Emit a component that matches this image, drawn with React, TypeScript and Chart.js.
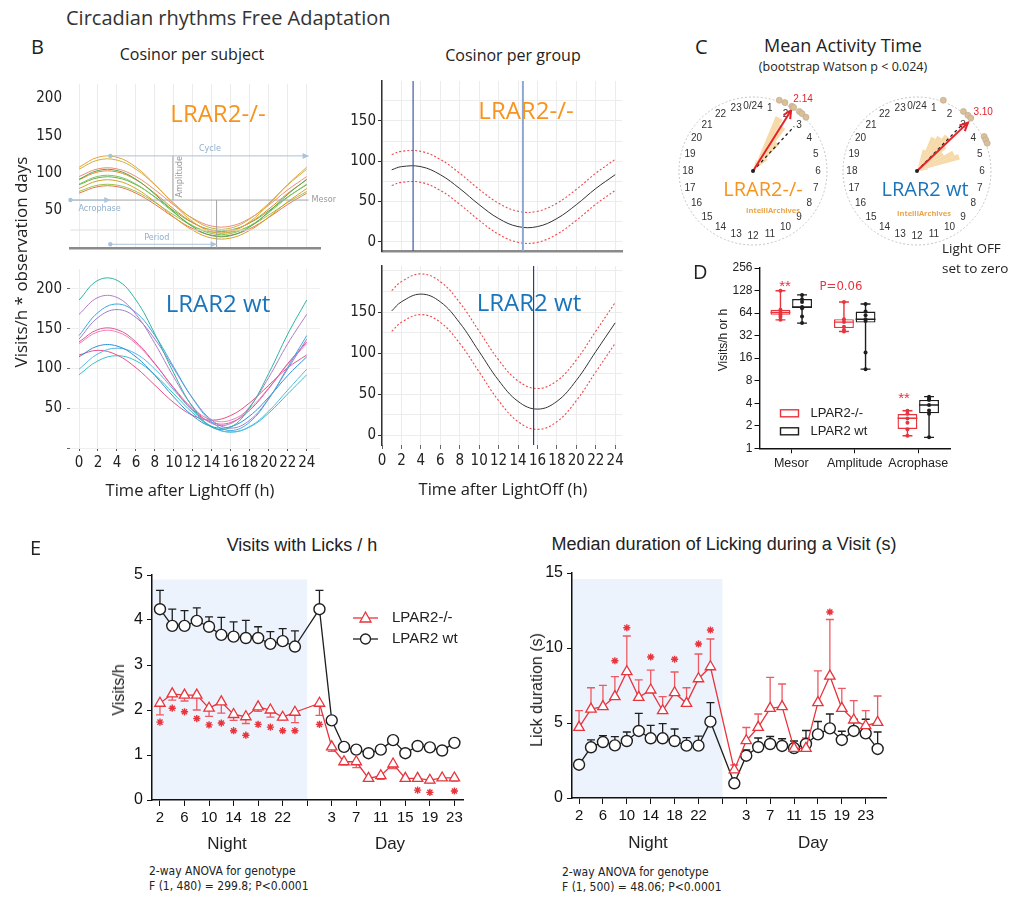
import React, { useEffect, useRef } from "react";
import { Chart, registerables } from "chart.js";

Chart.register(...registerables);

const SANS = "'Liberation Sans', Arial, sans-serif";
const OPEN = "'Open Sans', 'Noto Sans', sans-serif";
const NARROW = "'Liberation Sans Narrow', 'DejaVu Sans Condensed', 'Liberation Sans', sans-serif";
const RED = "#e8343d";
const INK = "#1e1e1e";
const ORANGE = "#f7941d";
const BLUE = "#1b75bb";

Chart.defaults.font.family = SANS;
Chart.defaults.color = "#222";

// ================= Panel B: cosinor per subject (values sampled every 2 h) =================
const subjectHours = [0, 2, 4, 6, 8, 10, 12, 14, 16, 18, 20, 22, 24];
const koSubjectCurves = [
  [107.9, 121.2, 121.2, 107.9, 84.8, 58.2, 35.1, 21.8, 21.8, 35.1, 58.2, 84.8, 107.9],
  [105.2, 117.4, 117.4, 105.2, 84.2, 59.8, 38.8, 26.6, 26.6, 38.8, 59.8, 84.2, 105.2],
  [95.4, 105.7, 105.7, 95.4, 77.7, 57.3, 39.6, 29.3, 29.3, 39.6, 57.3, 77.7, 95.4],
  [91.8, 103.5, 103.5, 91.8, 71.7, 48.3, 28.2, 16.5, 16.5, 28.2, 48.3, 71.7, 91.8],
  [91.1, 101.6, 101.6, 91.1, 73.0, 52.0, 33.9, 23.4, 23.4, 33.9, 52.0, 73.0, 91.1],
  [85.4, 95.7, 95.7, 85.4, 67.7, 47.3, 29.6, 19.3, 19.3, 29.6, 47.3, 67.7, 85.4],
  [84.5, 93.8, 93.8, 84.5, 68.3, 49.7, 33.5, 24.2, 24.2, 33.5, 49.7, 68.3, 84.5],
  [79.4, 89.7, 89.7, 79.4, 61.7, 41.3, 23.6, 13.3, 13.3, 23.6, 41.3, 61.7, 79.4],
  [75.5, 83.9, 83.9, 75.5, 60.9, 44.1, 29.5, 21.1, 21.1, 29.5, 44.1, 60.9, 75.5],
  [73.2, 81.9, 81.9, 73.2, 58.2, 40.8, 25.8, 17.1, 17.1, 25.8, 40.8, 58.2, 73.2],
];
const koSubjectColors = ["#e9a23b", "#c9b43c", "#f08a7a", "#52a84a", "#e58b2a", "#86c45c", "#5fb356", "#d6a02a", "#9cc248", "#e37752"];
const wtSubjectCurves = [
  [186, 210.8, 210.8, 186, 143.2, 93.8, 51, 26.2, 26.2, 51, 93.8, 143.2, 186],
  [168, 189.2, 189.2, 168, 131.2, 88.8, 52, 30.8, 30.8, 52, 88.8, 131.2, 168],
  [141.3, 170.3, 181, 170.3, 141.3, 101.5, 61.8, 32.7, 22, 32.7, 61.8, 101.5, 141.3],
  [136.8, 164, 174, 164, 136.8, 99.5, 62.3, 35, 25, 35, 62.3, 99.5, 136.8],
  [133.3, 148.9, 148.9, 133.3, 106.2, 74.8, 47.7, 32.1, 32.1, 47.7, 74.8, 106.2, 133.3],
  [131.2, 146, 146, 131.2, 105.4, 75.6, 49.8, 35, 35, 49.8, 75.6, 105.4, 131.2],
  [114.6, 128.2, 128.2, 114.6, 91.1, 63.9, 40.4, 26.8, 26.8, 40.4, 63.9, 91.1, 114.6],
  [99.1, 118.4, 125.5, 118.4, 99.1, 72.8, 46.4, 27.1, 20, 27.1, 46.4, 72.8, 99.1],
  [116.9, 122.8, 116.9, 100.9, 78.9, 56.9, 40.9, 35, 40.9, 56.9, 78.9, 100.9, 116.9],
  [92, 109.6, 116, 109.6, 92, 68, 44, 26.4, 20, 26.4, 44, 68, 92],
];
const wtSubjectColors = ["#2bb5a0", "#b07cc6", "#3aa8e0", "#9b7fd0", "#e0559a", "#f07fb0", "#2e8fd6", "#58b8e8", "#e8508a", "#35c0c8"];

// guide annotations (data units) on the per-subject LRAR2-/- plot
const guideStart = -0.9;
const guideAcrophase = 3.3;
const guideCycleEnd = 24.2;
const guideMesor = 64;
const guidePeak = 123;
const guideAmplitudeHour = 9.9;
const guideTroughHour = 14.5;
const guidePeriodLevel = 5;
const guideLowLevel = 24;

// ================= Panel B: cosinor per group =================
const groupHours = [1, 2, 4, 6, 8, 10, 12, 14, 16, 18, 20, 22, 24];
const koGroupFit = [89.3, 93.2, 93.2, 83.2, 66, 46, 28.8, 18.8, 18.8, 28.8, 46, 66, 83.2];
const koGroupUpper = [108.3, 112.2, 112.2, 102.2, 85, 65, 47.8, 37.8, 37.8, 47.8, 65, 85, 102.2];
const koGroupLower = [69.8, 73.7, 73.7, 63.7, 46.5, 26.5, 9.3, -0.7, -0.7, 9.3, 26.5, 46.5, 63.7];
const wtGroupFit = [151.3, 162.4, 171.8, 162.4, 136.8, 101.8, 66.8, 41.2, 31.8, 41.2, 66.8, 101.8, 136.8];
const wtGroupUpper = [176, 187, 196.4, 187, 161.5, 126.6, 91.7, 66.2, 56.8, 66.2, 91.7, 126.6, 161.5];
const wtGroupLower = [126.4, 137.5, 146.8, 137.5, 111.9, 77, 42.1, 16.5, 7.1, 16.5, 42.1, 77, 111.9];
const koGroupMarkerHours = [3.2, 14.5];
const wtGroupMarkerHours = [15.6];

// ================= Panel C: mean activity time =================
const clockHours = [0, 1, 2, 3, 4, 5, 6, 7, 8, 9, 10, 11, 12, 13, 14, 15, 16, 17, 18, 19, 20, 21, 22, 23];
const koPhaseHours = [1.36, 1.67, 2.07, 2.17, 2.53, 2.7, 2.97];
const wtPhaseHours = [1.36, 2.53, 2.83, 3.03, 4.19, 4.38, 4.56];
const koMeanHour = 2.14;
const wtMeanHour = 3.1;
const koMeanLength = 0.97;
const wtMeanLength = 0.95;
const koMedianHour = 2.85;
const wtMedianHour = 2.95;
const koMedianLength = 0.82;
const wtMedianLength = 0.9;
const koRoseStarts = [1.0, 1.5, 2.0, 2.5, 3.0];
const koRoseValues = [0.15, 0.8, 0.72, 0.5, 0.25];
const wtRoseStarts = [1.0, 1.5, 2.0, 2.5, 3.0, 3.5, 4.0, 4.5, 5.0];
const wtRoseValues = [0.3, 0.5, 0.55, 0.62, 0.5, 0.42, 0.55, 0.6, 0.15];

// ================= Panel D: box plots =================
const boxCategories = ["Mesor", "Amplitude", "Acrophase"];
const logTicks = [1, 2, 4, 8, 16, 32, 64, 128, 256];
const koBoxMin = [52, 36.3, 1.47];
const koBoxQ1 = [60.7, 40.3, 1.81];
const koBoxMedian = [65, 48.5, 2.52];
const koBoxQ3 = [71, 53, 2.87];
const koBoxMax = [127, 90, 3.18];
const koBoxPoints = [[127, 71, 65, 61, 57, 52], [90, 53, 48.5, 42, 38, 36.3], [3.18, 2.9, 2.5, 2.2, 1.8, 1.47]];
const wtBoxMin = [47, 11.4, 1.4];
const wtBoxQ1 = [74.6, 47.8, 2.93];
const wtBoxMedian = [77, 53, 3.79];
const wtBoxQ3 = [98.5, 67, 4.43];
const wtBoxMax = [112, 84.5, 4.9];
const wtBoxPoints = [[112, 98, 90, 77, 74, 57.6, 47], [84.5, 67, 60, 53, 50, 19, 11.4], [4.9, 4.6, 4.43, 3.8, 3.2, 2.9, 1.4]];

// ================= Panel E: visits with licks =================
const visitsNightHours = [2, 4, 6, 8, 10, 12, 14, 16, 18, 20, 22, 24];
const visitsDayHours = [1, 3, 5, 7, 9, 11, 13, 15, 17, 19, 21, 23];
const koVisitsNight = [2.15, 2.36, 2.33, 2.33, 2.04, 2.18, 1.9, 1.85, 2.07, 2.0, 1.84, 1.95];
const koVisitsNightErr = [1.89, 2.22, 2.2, 2.0, 1.86, 1.93, 1.77, 1.7, 1.97, 1.84, 1.78, 1.72];
const koVisitsNightStars = [1.73, 2.04, 1.96, 1.81, 1.67, 1.71, 1.54, 1.44, 1.68, 1.62, 1.54, 1.54];
const koVisitsDay = [2.15, 1.18, 0.85, 0.85, 0.48, 0.54, 0.8, 0.48, 0.48, 0.44, 0.49, 0.49];
const koVisitsDayErr = [1.88, 1.08, 0.78, 0.72, 0.43, 0.46, 0.7, 0.44, 0.43, 0.38, 0.45, 0.42];
const koVisitsDayStars = [1.68, null, null, null, null, null, null, null, 0.22, 0.17, null, 0.2];
const wtVisitsNight = [4.24, 3.87, 3.87, 3.98, 3.85, 3.67, 3.63, 3.6, 3.6, 3.47, 3.53, 3.41];
const wtVisitsNightErr = [4.66, 4.24, 4.21, 4.27, 4.07, 4.06, 3.96, 3.99, 3.85, 3.74, 3.81, 3.76];
const wtVisitsDay = [4.24, 1.77, 1.18, 1.12, 1.04, 1.12, 1.33, 1.04, 1.2, 1.17, 1.1, 1.27];
const wtVisitsDayErr = [4.66, 1.8, 1.21, 1.15, 1.07, 1.16, 1.4, 1.07, 1.27, 1.2, 1.13, 1.3];

// ================= Panel E: median licking duration =================
const lickNightHours = [2, 4, 6, 8, 10, 12, 14, 16, 18, 20, 22, 24];
const lickDayHours = [1, 3, 5, 7, 9, 11, 13, 15, 17, 19, 21, 23, 25];
const koLickNight = [4.71, 5.93, 6.09, 6.76, 8.42, 6.71, 7.2, 5.82, 7.02, 6.31, 7.95, 8.75];
const koLickNightErr = [5.82, 7.35, 7.51, 8.09, 10.8, 7.87, 8.53, 6.76, 8.4, 7.35, 9.6, 10.6];
const koLickNightStars = [null, null, null, 9.15, 11.35, null, 9.4, null, 9.25, null, 10.27, 11.2];
const koLickDay = [1.87, 3.82, 4.71, 5.98, 6.09, 3.31, 3.31, 6.36, 8.13, 5.98, 5.2, 4.82, 5.04];
const koLickDayErr = [2.2, 4.7, 5.6, 8.04, 7.6, 3.5, 4.0, 8.47, 11.9, 7.31, 6.49, 5.82, 6.8];
const koLickDayStars = [null, null, null, null, null, null, null, null, 12.4, null, null, null, null];
const wtLickNight = [2.22, 3.38, 3.73, 3.51, 3.8, 4.47, 3.98, 3.98, 3.8, 3.49, 3.49, 5.09];
const wtLickNightErr = [2.5, 3.87, 4.16, 4.09, 4.4, 5.64, 4.84, 4.96, 4.6, 4.02, 4.13, 6.36];
const wtLickDay = [0.98, 2.82, 3.4, 3.6, 3.47, 3.33, 3.6, 4.24, 4.64, 3.87, 4.47, 4.31, 3.27];
const wtLickDayErr = [1.0, 3.2, 4.0, 4.1, 3.95, 3.8, 4.5, 5.1, 5.6, 4.45, 5.25, 5.25, 4.4];

// ================= helpers =================
const baseOptions = {
  responsive: false,
  maintainAspectRatio: false,
  animation: false,
  devicePixelRatio: 1,
  events: [],
  plugins: { legend: { display: false }, tooltip: { enabled: false } },
};

const DAY_SLOT0 = 13; // night slots 0..11, one empty slot, then day slots
const toSlots = (night: any[], day: any[]) => [
  ...night.map((v, i) => ({ x: i, y: v })),
  ...day.map((v, j) => ({ x: DAY_SLOT0 + j, y: v })),
];

const errorBars = {
  id: "errorBars",
  beforeDatasetsDraw(chart: any) {
    const { ctx } = chart;
    const ys = chart.scales.y;
    chart.data.datasets.forEach((ds: any, di: number) => {
      if (!ds.errTo) return;
      const meta = chart.getDatasetMeta(di);
      ctx.save();
      ctx.strokeStyle = ds.errColor || ds.borderColor;
      ctx.lineWidth = 1.3;
      meta.data.forEach((pt: any, i: number) => {
        const e = ds.errTo[i];
        if (e == null) return;
        const y2 = ys.getPixelForValue(e);
        ctx.beginPath();
        ctx.moveTo(pt.x, pt.y);
        ctx.lineTo(pt.x, y2);
        ctx.moveTo(pt.x - 4, y2);
        ctx.lineTo(pt.x + 4, y2);
        ctx.stroke();
      });
      ctx.restore();
    });
  },
};

const nightShade = (toSlot: number, topValue: number) => ({
  id: "nightShade",
  beforeDraw(chart: any) {
    const { ctx, chartArea, scales } = chart;
    const x2 = scales.x.getPixelForValue(toSlot);
    const y1 = scales.y.getPixelForValue(topValue);
    ctx.save();
    ctx.fillStyle = "#ecf3fc";
    ctx.fillRect(chartArea.left, y1, x2 - chartArea.left, chartArea.bottom - y1);
    ctx.restore();
  },
});

function drawMarker(ctx: any, shape: string, x: number, y: number, color: string) {
  ctx.save();
  ctx.fillStyle = "#fff";
  ctx.strokeStyle = color;
  ctx.lineWidth = 1.3;
  ctx.beginPath();
  if (shape === "triangle") {
    ctx.moveTo(x, y - 6);
    ctx.lineTo(x + 5.5, y + 4);
    ctx.lineTo(x - 5.5, y + 4);
    ctx.closePath();
  } else {
    ctx.arc(x, y, 5, 0, Math.PI * 2);
  }
  ctx.fill();
  ctx.stroke();
  ctx.restore();
}

const seriesLegend = (dx: number, dy: number) => ({
  id: "seriesLegend",
  afterDraw(chart: any) {
    const { ctx, chartArea } = chart;
    chart.data.datasets
      .filter((d: any) => d.legendShape)
      .forEach((d: any, i: number) => {
        const x0 = chartArea.left + dx;
        const y = chartArea.top + dy + i * 21;
        ctx.save();
        ctx.strokeStyle = d.borderColor;
        ctx.lineWidth = 1.3;
        ctx.beginPath();
        ctx.moveTo(x0, y);
        ctx.lineTo(x0 + 25, y);
        ctx.stroke();
        drawMarker(ctx, d.legendShape, x0 + 12.5, y, d.borderColor);
        ctx.fillStyle = "#222";
        ctx.font = `15px ${SANS}`;
        ctx.textBaseline = "middle";
        ctx.fillText(d.label, x0 + 39, y);
        ctx.restore();
      });
  },
});

function timeCourseConfig(p: any) {
  const slotLabel = (v: number) => {
    if (v < p.nightHours.length) return String(p.nightHours[v]);
    if (v < DAY_SLOT0) return "";
    const h = p.dayHours[v - DAY_SLOT0];
    return h == null ? "" : String(h);
  };
  const stars = toSlots(p.koNightStars, p.koDayStars).filter((pt) => pt.y != null);
  const plugins: any[] = [nightShade(12, p.shadeTop), errorBars];
  if (p.legend) plugins.push(seriesLegend(201, 43));
  return {
    type: "line",
    data: {
      datasets: [
        {
          label: "stars",
          data: stars,
          showLine: false,
          pointStyle: "star",
          pointRadius: 3.6,
          pointBorderWidth: 1.4,
          borderColor: RED,
          backgroundColor: RED,
        },
        {
          label: "LPAR2-/-",
          legendShape: "triangle",
          data: toSlots(p.koNight, p.koDay),
          errTo: [...p.koNightErr, ...p.koDayErr],
          errColor: "#ee5a62",
          borderColor: RED,
          backgroundColor: "#fff",
          pointStyle: "triangle",
          pointRadius: 6,
          pointBorderWidth: 1.3,
          borderWidth: 1.3,
          tension: 0,
        },
        {
          label: "LPAR2 wt",
          legendShape: "circle",
          data: toSlots(p.wtNight, p.wtDay),
          errTo: [...p.wtNightErr, ...p.wtDayErr],
          borderColor: INK,
          backgroundColor: "#fff",
          pointStyle: "circle",
          pointRadius: 5.5,
          pointBorderWidth: 1.4,
          borderWidth: 1.3,
          tension: 0,
        },
      ],
    },
    options: {
      ...baseOptions,
      layout: { padding: { top: p.padTop, right: p.padRight, left: 0, bottom: 0 } },
      scales: {
        x: {
          type: "linear",
          min: p.xMin,
          max: p.xMax,
          ticks: {
            stepSize: 2,
            maxTicksLimit: 100,
            includeBounds: false,
            autoSkip: false,
            maxRotation: 0,
            callback: slotLabel,
            font: { size: 15, family: SANS },
            color: "#111",
            padding: 3,
          },
          grid: { drawOnChartArea: false, tickLength: 6, color: "#111" },
          border: { color: "#111", width: 1.5 },
          afterFit: (s: any) => {
            s.height = p.axisH;
          },
        },
        y: {
          min: 0,
          max: p.yMax,
          ticks: { stepSize: p.yStep, font: { size: 16, family: SANS }, color: "#111", padding: 4 },
          grid: { drawOnChartArea: false, tickLength: 5, color: "#111" },
          border: { color: "#111", width: 1.5 },
          afterFit: (s: any) => {
            s.width = 52;
          },
        },
      },
    },
    plugins,
  };
}

const cosinorGuide = {
  id: "cosinorGuide",
  afterDatasetsDraw(chart: any) {
    const { ctx } = chart;
    const X = (v: number) => chart.scales.x.getPixelForValue(v);
    const Y = (v: number) => chart.scales.y.getPixelForValue(v);
    const seg = (x1: number, y1: number, x2: number, y2: number) => {
      ctx.beginPath();
      ctx.moveTo(x1, y1);
      ctx.lineTo(x2, y2);
      ctx.stroke();
    };
    const arrow = (x1: number, y: number, x2: number) => {
      seg(x1, y, x2, y);
      ctx.beginPath();
      ctx.moveTo(x2, y);
      ctx.lineTo(x2 - 6, y - 3);
      ctx.lineTo(x2 - 6, y + 3);
      ctx.closePath();
      ctx.fill();
      ctx.beginPath();
      ctx.arc(x1, y, 2.2, 0, Math.PI * 2);
      ctx.fill();
    };
    ctx.save();
    ctx.lineWidth = 1;
    ctx.strokeStyle = "#dedede";
    seg(X(guideStart), Y(guideLowLevel), X(guideCycleEnd), Y(guideLowLevel));
    ctx.strokeStyle = "#a3a3a3";
    seg(X(guideStart), Y(guideMesor), X(guideCycleEnd), Y(guideMesor));
    seg(X(guideAmplitudeHour), Y(guidePeak), X(guideAmplitudeHour), Y(guideMesor));
    seg(X(guideTroughHour), Y(guideMesor), X(guideTroughHour), Y(0));
    ctx.strokeStyle = "#a9c3da";
    ctx.fillStyle = "#a9c3da";
    arrow(X(guideStart), Y(guideMesor), X(guideAcrophase));
    arrow(X(guideAcrophase), Y(guidePeak), X(guideCycleEnd));
    arrow(X(guideAcrophase), Y(guidePeriodLevel), X(guideTroughHour));
    ctx.font = `9px ${NARROW}`;
    ctx.textBaseline = "middle";
    ctx.fillStyle = "#8fb0cc";
    ctx.textAlign = "left";
    ctx.fillText("Acrophase", X(guideStart) + 8, Y(guideMesor) + 9);
    ctx.textAlign = "center";
    ctx.fillText("Cycle", X(13.8), Y(guidePeak) - 7);
    ctx.fillText("Period", X(8.2), Y(guidePeriodLevel) - 7);
    ctx.fillStyle = "#999";
    ctx.textAlign = "left";
    ctx.fillText("Mesor", X(guideCycleEnd) + 3, Y(guideMesor));
    ctx.translate(X(guideAmplitudeHour) + 7, Y(95));
    ctx.rotate(-Math.PI / 2);
    ctx.textAlign = "center";
    ctx.fillText("Amplitude", 0, 0);
    ctx.restore();
  },
};

function subjectConfig(curves: number[][], colors: string[], yMax: number, isTop: boolean, axisH: number) {
  return {
    type: "line",
    data: {
      datasets: curves.map((c, i) => ({
        data: subjectHours.map((h, k) => ({ x: h, y: c[k] })),
        borderColor: colors[i],
        borderWidth: 1,
        pointRadius: 0,
        tension: 0.4,
        fill: false,
      })),
    },
    options: {
      ...baseOptions,
      layout: { padding: { top: 7, right: 20, left: 0, bottom: 0 } },
      scales: {
        x: {
          type: "linear",
          min: -0.95,
          max: 25.4,
          ticks: {
            display: !isTop,
            stepSize: 2,
            maxTicksLimit: 100,
            includeBounds: false,
            autoSkip: false,
            maxRotation: 0,
            font: { family: NARROW, size: 15 },
            color: "#222",
            padding: 3,
          },
          grid: { color: "#ebebeb", drawTicks: !isTop, tickLength: 3, tickColor: "#555" },
          border: { display: isTop, color: "#8a8a8a", width: 2.5 },
          afterFit: (s: any) => {
            s.height = axisH;
          },
        },
        y: {
          min: 0,
          max: yMax,
          ticks: {
            stepSize: 25,
            maxTicksLimit: 100,
            includeBounds: false,
            callback: (v: number) => (v % 50 === 0 && v > 0 ? String(v) : ""),
            font: { family: NARROW, size: 15 },
            color: "#222",
            padding: 5,
          },
          grid: {
            color: isTop ? "rgba(0,0,0,0)" : "#efefef",
            tickLength: 3,
            tickColor: (c: any) => (c.tick && c.tick.value % 50 === 0 && !isTop ? "#666" : "rgba(0,0,0,0)"),
          },
          border: { display: false },
          afterFit: (s: any) => {
            s.width = 40;
          },
        },
      },
    },
    plugins: isTop ? [cosinorGuide] : [],
  };
}

const markerLines = (hours: number[], colors: string[], widths: number[]) => ({
  id: "markerLines",
  afterDatasetsDraw(chart: any) {
    const { ctx, chartArea } = chart;
    hours.forEach((h, i) => {
      const x = chart.scales.x.getPixelForValue(h);
      ctx.save();
      ctx.strokeStyle = colors[i];
      ctx.lineWidth = widths[i];
      ctx.beginPath();
      ctx.moveTo(x, chartArea.top);
      ctx.lineTo(x, chartArea.bottom);
      ctx.stroke();
      ctx.restore();
    });
  },
});

function groupConfig(fit: number[], upper: number[], lower: number[], yMin: number, yMax: number, showX: boolean, axisH: number, padTop: number, marker: any) {
  const band = (vals: number[]) => ({
    data: groupHours.map((h, k) => ({ x: h, y: vals[k] })),
    borderColor: "#f04848",
    borderDash: [2, 2],
    borderWidth: 1.1,
    pointRadius: 0,
    tension: 0.4,
  });
  return {
    type: "line",
    data: {
      datasets: [
        band(upper),
        band(lower),
        {
          data: groupHours.map((h, k) => ({ x: h, y: fit[k] })),
          borderColor: "#333",
          borderWidth: 1,
          pointRadius: 0,
          tension: 0.4,
        },
      ],
    },
    options: {
      ...baseOptions,
      layout: { padding: { top: padTop, right: 8, left: 0, bottom: 0 } },
      scales: {
        x: {
          type: "linear",
          min: 0,
          max: 24.7,
          ticks: {
            display: showX,
            stepSize: 2,
            maxTicksLimit: 100,
            includeBounds: false,
            autoSkip: false,
            maxRotation: 0,
            font: { family: NARROW, size: 15 },
            color: "#222",
            padding: 3,
          },
          grid: { color: "#ececec", drawTicks: showX, tickLength: 4, tickColor: "#666" },
          border: { display: !showX, color: "#8a8a8a", width: 2.5 },
          afterFit: (s: any) => {
            s.height = axisH;
          },
        },
        y: {
          min: yMin,
          max: yMax,
          ticks: {
            stepSize: 25,
            maxTicksLimit: 100,
            includeBounds: false,
            callback: (v: number) => (v % 50 === 0 && v < 200 ? String(v) : ""),
            font: { family: NARROW, size: 15 },
            color: "#222",
            padding: 2,
          },
          grid: {
            color: "#ececec",
            tickLength: 4,
            tickColor: (c: any) => (c.tick && c.tick.value % 50 === 0 && c.tick.value < 200 ? "#333" : "rgba(0,0,0,0)"),
          },
          border: { display: true, color: "#333", width: 1.5 },
          afterFit: (s: any) => {
            s.width = 42;
          },
        },
      },
    },
    plugins: [markerLines(marker.hours, marker.colors, marker.widths)],
  };
}

const polarPoint = (cx: number, cy: number, R: number, hour: number): [number, number] => {
  const a = (hour / 24) * Math.PI * 2;
  return [cx + Math.sin(a) * R, cy - Math.cos(a) * R];
};

const clockFace = (phases: number[], meanHour: number, meanLen: number, medianHour: number, medianLen: number) => ({
  id: "clockFace",
  beforeDatasetsDraw(chart: any) {
    const r = chart.scales.r;
    const { ctx } = chart;
    const cx = r.xCenter, cy = r.yCenter, R = r.drawingArea;
    ctx.save();
    ctx.strokeStyle = "#c4c4c4";
    ctx.lineWidth = 1;
    ctx.setLineDash([2, 2]);
    ctx.beginPath();
    ctx.arc(cx, cy, R, 0, Math.PI * 2);
    ctx.stroke();
    ctx.setLineDash([]);
    ctx.fillStyle = "#333";
    ctx.font = `10px ${SANS}`;
    ctx.textAlign = "center";
    ctx.textBaseline = "middle";
    clockHours.forEach((h) => {
      const [x, y] = polarPoint(cx, cy, R * 0.88, h);
      ctx.fillText(h === 0 ? "0/24" : String(h), x, y);
    });
    ctx.restore();
  },
  afterDatasetsDraw(chart: any) {
    const r = chart.scales.r;
    const { ctx } = chart;
    const cx = r.xCenter, cy = r.yCenter, R = r.drawingArea;
    ctx.save();
    // median direction (dashed)
    const [mx, my] = polarPoint(cx, cy, R * medianLen, medianHour);
    ctx.strokeStyle = "#222";
    ctx.lineWidth = 1.3;
    ctx.setLineDash([3, 3]);
    ctx.beginPath();
    ctx.moveTo(cx, cy);
    ctx.lineTo(mx, my);
    ctx.stroke();
    ctx.setLineDash([]);
    // mean arrow
    const [ax, ay] = polarPoint(cx, cy, R * meanLen, meanHour);
    ctx.strokeStyle = "#e8202a";
    ctx.lineWidth = 2;
    ctx.beginPath();
    ctx.moveTo(cx, cy);
    ctx.lineTo(ax, ay);
    ctx.stroke();
    const ang = Math.atan2(ay - cy, ax - cx);
    ctx.beginPath();
    ctx.moveTo(ax - 9 * Math.cos(ang - 0.45), ay - 9 * Math.sin(ang - 0.45));
    ctx.lineTo(ax, ay);
    ctx.lineTo(ax - 9 * Math.cos(ang + 0.45), ay - 9 * Math.sin(ang + 0.45));
    ctx.stroke();
    ctx.fillStyle = "#222";
    ctx.beginPath();
    ctx.arc(cx, cy, 2, 0, Math.PI * 2);
    ctx.fill();
    // subject phases on the rim
    ctx.fillStyle = "#dcbf95";
    ctx.strokeStyle = "#bfb09a";
    ctx.lineWidth = 0.8;
    phases.forEach((h) => {
      const [x, y] = polarPoint(cx, cy, R * 1.02, h);
      ctx.beginPath();
      ctx.arc(x, y, 3, 0, Math.PI * 2);
      ctx.fill();
      ctx.stroke();
    });
    // mean label
    const [lx, ly] = polarPoint(cx, cy, R * 1.12, meanHour);
    ctx.fillStyle = "#e8202a";
    ctx.font = `10px ${SANS}`;
    ctx.textAlign = "center";
    ctx.textBaseline = "middle";
    ctx.fillText(meanHour.toFixed(2), lx + 6, ly - 2);
    ctx.restore();
  },
});

const roseLabels = Array.from({ length: 48 }, (_, k) => String(k / 2));
const roseSeries = (starts: number[], values: number[]) => {
  const out = new Array(48).fill(0);
  starts.forEach((s, i) => {
    out[Math.round(s * 2)] = values[i];
  });
  return out;
};

function clockConfig(starts: number[], values: number[], phases: number[], meanHour: number, meanLen: number, medianHour: number, medianLen: number) {
  return {
    type: "polarArea",
    data: {
      labels: roseLabels,
      datasets: [{ data: roseSeries(starts, values), backgroundColor: "rgba(246, 212, 155, 0.85)", borderWidth: 0 }],
    },
    options: {
      ...baseOptions,
      layout: { padding: 8 },
      scales: { r: { display: false, min: 0, max: 1 } },
    },
    plugins: [clockFace(phases, meanHour, meanLen, medianHour, medianLen)],
  };
}

const boxWhiskers = {
  id: "boxWhiskers",
  afterDatasetsDraw(chart: any) {
    const { ctx } = chart;
    const y = chart.scales.y;
    const py = (v: number) => y.getPixelForValue(v);
    chart.data.datasets.forEach((ds: any, di: number) => {
      const meta = chart.getDatasetMeta(di);
      ctx.save();
      ctx.strokeStyle = ds.borderColor;
      ctx.fillStyle = ds.borderColor;
      ctx.lineWidth = 1.4;
      meta.data.forEach((bar: any, i: number) => {
        const x = bar.x;
        const hw = bar.width / 2;
        ctx.beginPath();
        ctx.moveTo(x, py(ds.boxQ3[i]));
        ctx.lineTo(x, py(ds.boxMax[i]));
        ctx.moveTo(x - hw / 2, py(ds.boxMax[i]));
        ctx.lineTo(x + hw / 2, py(ds.boxMax[i]));
        ctx.moveTo(x, py(ds.boxQ1[i]));
        ctx.lineTo(x, py(ds.boxMin[i]));
        ctx.moveTo(x - hw / 2, py(ds.boxMin[i]));
        ctx.lineTo(x + hw / 2, py(ds.boxMin[i]));
        ctx.moveTo(x - hw, py(ds.boxMedian[i]));
        ctx.lineTo(x + hw, py(ds.boxMedian[i]));
        ctx.stroke();
        ds.boxPoints[i].forEach((v: number) => {
          ctx.beginPath();
          ctx.arc(x, py(v), 2, 0, Math.PI * 2);
          ctx.fill();
        });
      });
      ctx.restore();
    });
  },
  afterDraw(chart: any) {
    const { ctx, chartArea } = chart;
    chart.data.datasets.forEach((ds: any, i: number) => {
      const y = chartArea.bottom - 35 + i * 18;
      ctx.save();
      ctx.strokeStyle = ds.borderColor;
      ctx.lineWidth = 1.4;
      ctx.strokeRect(chartArea.left + 21, y - 3.5, 18, 7);
      ctx.fillStyle = "#222";
      ctx.font = `13px ${SANS}`;
      ctx.textBaseline = "middle";
      ctx.fillText(ds.label, chartArea.left + 51, y);
      ctx.restore();
    });
  },
};

function boxConfig() {
  const mk = (label: string, color: string, mn: number[], q1: number[], md: number[], q3: number[], mx: number[], pts: number[][]) => ({
    label,
    data: boxCategories.map((_, i) => [q1[i], q3[i]]),
    backgroundColor: "#fff",
    borderColor: color,
    borderWidth: 1.4,
    borderSkipped: false,
    categoryPercentage: 0.68,
    barPercentage: 0.92,
    boxMin: mn,
    boxQ1: q1,
    boxMedian: md,
    boxQ3: q3,
    boxMax: mx,
    boxPoints: pts,
  });
  return {
    type: "bar",
    data: {
      labels: boxCategories,
      datasets: [
        mk("LPAR2-/-", RED, koBoxMin, koBoxQ1, koBoxMedian, koBoxQ3, koBoxMax, koBoxPoints),
        mk("LPAR2 wt", INK, wtBoxMin, wtBoxQ1, wtBoxMedian, wtBoxQ3, wtBoxMax, wtBoxPoints),
      ],
    },
    options: {
      ...baseOptions,
      layout: { padding: { top: 13, right: 10, left: 0, bottom: 0 } },
      scales: {
        x: {
          ticks: { font: { size: 12.5, family: SANS }, color: "#222", padding: 3, autoSkip: false, maxRotation: 0, minRotation: 0 },
          grid: { offset: false, drawOnChartArea: false, tickLength: 5, color: "#111" },
          border: { color: "#111", width: 1.4 },
          afterFit: (s: any) => {
            s.height = 34.7;
          },
        },
        y: {
          type: "logarithmic",
          min: 1,
          max: 256,
          afterBuildTicks: (s: any) => {
            s.ticks = logTicks.map((v) => ({ value: v }));
          },
          ticks: { callback: (v: number) => String(v), font: { size: 12, family: SANS }, color: "#222", padding: 2 },
          grid: { drawOnChartArea: false, tickLength: 5, color: "#111" },
          border: { color: "#111", width: 1.4 },
          afterFit: (s: any) => {
            s.width = 59.5;
          },
        },
      },
    },
    plugins: [boxWhiskers],
  };
}

// ================= components =================
function ChartCanvas({ left, top, width, height, make }: any) {
  const ref = useRef<HTMLCanvasElement | null>(null);
  useEffect(() => {
    if (!ref.current) return;
    const chart = new Chart(ref.current, make());
    return () => chart.destroy();
  }, []);
  return <canvas ref={ref} width={width} height={height} style={{ position: "absolute", left, top, width, height }} />;
}

function Txt({ x, y, children, size = 14, color = "#222", family = OPEN, align = "left", rotate = false, weight = 400 }: any) {
  const transform = rotate ? "translate(-50%,-50%) rotate(-90deg)" : align === "center" ? "translate(-50%,-50%)" : "translateY(-50%)";
  return (
    <div
      style={{
        position: "absolute",
        left: x,
        top: y,
        transform,
        fontSize: size,
        color,
        fontFamily: family,
        fontWeight: weight,
        whiteSpace: "nowrap",
        lineHeight: 1,
      }}
    >
      {children}
    </div>
  );
}

export default function App() {
  return (
    <div style={{ position: "absolute", left: 0, top: 0, width: 1010, height: 898, background: "#fff", overflow: "hidden" }}>
      {/* Panel B */}
      <ChartCanvas left={30} top={70} width={310} height={192} make={() => subjectConfig(koSubjectCurves, koSubjectColors, 219, true, 2)} />
      <ChartCanvas left={30} top={255} width={310} height={230} make={() => subjectConfig(wtSubjectCurves, wtSubjectColors, 225, false, 37)} />
      <ChartCanvas
        left={340}
        top={70}
        width={290}
        height={192}
        make={() =>
          groupConfig(koGroupFit, koGroupUpper, koGroupLower, -11.5, 199.5, false, 3, 6, {
            hours: koGroupMarkerHours,
            colors: ["#3d5a9e", "#8da6d4"],
            widths: [1.2, 2],
          })
        }
      />
      <ChartCanvas
        left={340}
        top={255}
        width={290}
        height={230}
        make={() =>
          groupConfig(wtGroupFit, wtGroupUpper, wtGroupLower, -11.9, 206, true, 40, 7, {
            hours: wtGroupMarkerHours,
            colors: ["#2b3f80"],
            widths: [1.2],
          })
        }
      />
      {/* Panel C */}
      <ChartCanvas
        left={671}
        top={89}
        width={164}
        height={164}
        make={() => clockConfig(koRoseStarts, koRoseValues, koPhaseHours, koMeanHour, koMeanLength, koMedianHour, koMedianLength)}
      />
      <ChartCanvas
        left={835}
        top={89}
        width={164}
        height={164}
        make={() => clockConfig(wtRoseStarts, wtRoseValues, wtPhaseHours, wtMeanHour, wtMeanLength, wtMedianHour, wtMedianLength)}
      />
      {/* Panel D */}
      <ChartCanvas left={700} top={255} width={260} height={228} make={() => boxConfig()} />
      {/* Panel E */}
      <ChartCanvas
        left={100}
        top={560}
        width={380}
        height={275}
        make={() =>
          timeCourseConfig({
            nightHours: visitsNightHours,
            dayHours: visitsDayHours,
            koNight: koVisitsNight,
            koNightErr: koVisitsNightErr,
            koNightStars: koVisitsNightStars,
            koDay: koVisitsDay,
            koDayErr: koVisitsDayErr,
            koDayStars: koVisitsDayStars,
            wtNight: wtVisitsNight,
            wtNightErr: wtVisitsNightErr,
            wtDay: wtVisitsDay,
            wtDayErr: wtVisitsDayErr,
            xMin: -0.65,
            xMax: 24.7,
            yMax: 5,
            yStep: 1,
            shadeTop: 4.9,
            padTop: 15,
            padRight: 17,
            axisH: 35,
            legend: true,
          })
        }
      />
      <ChartCanvas
        left={520}
        top={558}
        width={400}
        height={270}
        make={() =>
          timeCourseConfig({
            nightHours: lickNightHours,
            dayHours: lickDayHours,
            koNight: koLickNight,
            koNightErr: koLickNightErr,
            koNightStars: koLickNightStars,
            koDay: koLickDay,
            koDayErr: koLickDayErr,
            koDayStars: koLickDayStars,
            wtNight: wtLickNight,
            wtNightErr: wtLickNightErr,
            wtDay: wtLickDay,
            wtDayErr: wtLickDayErr,
            xMin: -0.59,
            xMax: 25.7,
            yMax: 15,
            yStep: 5,
            shadeTop: 14.6,
            padTop: 15,
            padRight: 34,
            axisH: 30,
            legend: false,
          })
        }
      />

      {/* Texts */}
      <Txt x={66} y={18} size={20} color="#333">Circadian rhythms Free Adaptation</Txt>
      <Txt x={31} y={47} size={20}>B</Txt>
      <Txt x={192} y={54} size={16} align="center">Cosinor per subject</Txt>
      <Txt x={513} y={55} size={16} align="center">Cosinor per group</Txt>
      <Txt x={218} y={113} size={24} align="center" color={ORANGE}>LRAR2-/-</Txt>
      <Txt x={526} y={110} size={24} align="center" color={ORANGE}>LRAR2-/-</Txt>
      <Txt x={218} y={303} size={24} align="center" color={BLUE}>LRAR2 wt</Txt>
      <Txt x={529} y={302} size={24} align="center" color={BLUE}>LRAR2 wt</Txt>
      <Txt x={20} y={262} size={17} rotate>Visits/h * observation days</Txt>
      <Txt x={190} y={490} size={16.5} align="center">Time after LightOff (h)</Txt>
      <Txt x={503} y={489} size={16.5} align="center">Time after LightOff (h)</Txt>

      <Txt x={695} y={47} size={20}>C</Txt>
      <Txt x={843} y={45} size={18} align="center">Mean Activity Time</Txt>
      <Txt x={843} y={67} size={12.5} align="center">(bootstrap Watson p &lt; 0.024)</Txt>
      <Txt x={763} y={189} size={20} align="center" color={ORANGE}>LRAR2-/-</Txt>
      <Txt x={925} y={189} size={20} align="center" color={BLUE}>LRAR2 wt</Txt>
      <Txt x={773} y={211} size={7.5} align="center" color="#e9a64a" weight={700}>IntelliArchives</Txt>
      <Txt x={924} y={214} size={7.5} align="center" color="#e9a64a" weight={700}>IntelliArchives</Txt>
      <Txt x={942} y={249} size={13.5}>Light OFF</Txt>
      <Txt x={942} y={269} size={13.5}>set to zero</Txt>

      <Txt x={693} y={272} size={20}>D</Txt>
      <Txt x={723} y={340} size={12} rotate family={SANS}>Visits/h or h</Txt>
      <Txt x={785} y={285} size={15} align="center" color={RED} family={SANS}>**</Txt>
      <Txt x={841} y={285} size={13} align="center" color={RED} family={NARROW}>P=0.06</Txt>
      <Txt x={904} y={397} size={15} align="center" color={RED} family={SANS}>**</Txt>

      <Txt x={30} y={548} size={20}>E</Txt>
      <Txt x={302} y={545} size={18} align="center" family={SANS}>Visits with Licks / h</Txt>
      <Txt x={724} y={544} size={18} align="center" family={SANS}>Median duration of Licking during a Visit (s)</Txt>
      <Txt x={119} y={690} size={16} rotate family={SANS}>Visits/h</Txt>
      <Txt x={537} y={690} size={16} rotate family={SANS}>Lick duration (s)</Txt>
      <Txt x={227} y={843} size={17} align="center" family={SANS}>Night</Txt>
      <Txt x={390} y={843} size={17} align="center" family={SANS}>Day</Txt>
      <Txt x={648} y={842} size={17} align="center" family={SANS}>Night</Txt>
      <Txt x={813} y={842} size={17} align="center" family={SANS}>Day</Txt>
      <Txt x={149} y={871} size={12} family={NARROW}>2-way ANOVA for genotype</Txt>
      <Txt x={149} y={886} size={12} family={NARROW}>F (1, 480) = 299.8; P&lt;0.0001</Txt>
      <Txt x={562} y={872} size={12} family={NARROW}>2-way ANOVA for genotype</Txt>
      <Txt x={562} y={887} size={12} family={NARROW}>F (1, 500) = 48.06; P&lt;0.0001</Txt>
    </div>
  );
}
